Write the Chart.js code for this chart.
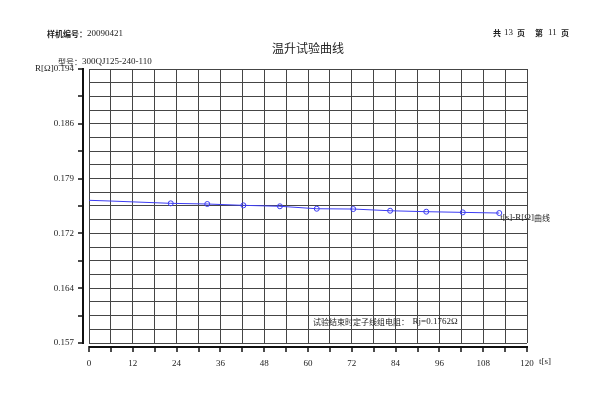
<!DOCTYPE html>
<html>
<head>
<meta charset="utf-8">
<script src="https://cdn.jsdelivr.net/npm/chart.js@4"></script>
<style>
  html, body { margin: 0; background: #fff; }
</style>
</head>
<body>
<canvas id="c" width="600" height="400"></canvas>
<script>
/* temperature-rise test curve: t[s] vs R[Ω] */
const T_S   = [0, 6, 22.4, 32.4, 42.3, 52.3, 62.4, 72.4, 82.5, 92.4, 102.4, 112.4];
const R_OHM = [0.17607, 0.17597, 0.17566, 0.17557, 0.17539, 0.17526, 0.17493, 0.17489, 0.17466, 0.17453, 0.17444, 0.17435];
const MARKED = [false, false, true, true, true, true, true, true, true, true, true, true];

const X_MIN = 0, X_MAX = 120, X_STEP = 6;
const X_LABELS = ["0", "12", "24", "36", "48", "60", "72", "84", "96", "108", "120"];
const Y_MIN = 0.1568, Y_MAX = 0.1938, Y_DIV = 20;
const Y_LABELS = ["0.157", "0.164", "0.172", "0.179", "0.186", "R[Ω]0.194"];

const NUM = "9px 'Liberation Serif'";
const CJK = "8px 'Noto Sans CJK SC'";
const CJK_B = "bold 8px 'Noto Sans CJK SC'";
const BLUE = "#3c3cf2";
const GRID = "#454545";

// draw a run of [font, text] pieces left to right
function run(ctx, parts, x, y) {
  parts.forEach(([font, text]) => {
    ctx.font = font;
    ctx.fillText(text, x, y);
    x += ctx.measureText(text).width;
  });
}

const decor = {
  id: "decor",
  afterDraw(chart) {
    const { ctx, chartArea: a, scales: { x, y } } = chart;
    ctx.save();
    ctx.strokeStyle = "#111";

    // y axis, set off left of the plot box
    ctx.lineWidth = 2;
    ctx.beginPath();
    ctx.moveTo(a.left - 6, a.top - 1);
    ctx.lineTo(a.left - 6, a.bottom + 1);
    ctx.stroke();
    ctx.lineWidth = 1.5;
    ctx.beginPath();
    y.ticks.forEach((t, i) => {
      if (i % 2) return;
      const py = Math.round(y.getPixelForValue(t.value));
      ctx.moveTo(a.left - 11, py);
      ctx.lineTo(a.left - 6, py);
    });
    ctx.stroke();

    // x axis, set off below the plot box
    ctx.lineWidth = 2;
    ctx.beginPath();
    ctx.moveTo(a.left, a.bottom + 4);
    ctx.lineTo(a.right + 1, a.bottom + 4);
    ctx.stroke();
    ctx.lineWidth = 1.5;
    ctx.beginPath();
    x.ticks.forEach((t) => {
      const px = Math.round(x.getPixelForValue(t.value));
      ctx.moveTo(px, a.bottom + 3);
      ctx.lineTo(px, a.bottom + 9);
    });
    ctx.stroke();

    ctx.fillStyle = "#222";
    ctx.textBaseline = "middle";
    ctx.textAlign = "left";

    // header
    run(ctx, [[CJK_B, "样机编号："], [NUM, "20090421"]], 47, 34);
    run(ctx, [[CJK_B, "共"]], 493, 33);
    run(ctx, [[NUM, "13"]], 504, 33);
    run(ctx, [[CJK_B, "页"]], 517, 33);
    run(ctx, [[CJK_B, "第"]], 535, 33);
    run(ctx, [[NUM, "11"]], 548, 33);
    run(ctx, [[CJK_B, "页"]], 561, 33);

    ctx.textAlign = "center";
    ctx.font = "12px 'Noto Sans CJK SC'";
    ctx.fillText("温升试验曲线", 308, 48);
    ctx.textAlign = "left";

    run(ctx, [[CJK, "型号："], [NUM, "300QJ125-240-110"]], 58, 62);

    // x axis unit
    run(ctx, [[NUM, "t[s]"]], 539, 362);

    // curve name next to the last point
    const last = T_S.length - 1;
    const lx = x.getPixelForValue(T_S[last]);
    const ly = y.getPixelForValue(R_OHM[last]);
    run(ctx, [[NUM, "t[s]-R[Ω]"], [CJK, "曲线"]], lx + 1, ly + 5);

    // end-of-test resistance note
    run(ctx, [[CJK, "试验结束时定子线组电阻：  "], [NUM, "Rj=0.1762Ω"]], 313, 322);

    ctx.restore();
  },
};

new Chart(document.getElementById("c"), {
  type: "line",
  data: {
    datasets: [{
      data: T_S.map((t, i) => ({ x: t, y: R_OHM[i] })),
      borderColor: BLUE,
      borderWidth: 1,
      tension: 0,
      pointRadius: (c) => (MARKED[c.dataIndex] ? 2.5 : 0),
      pointBorderColor: BLUE,
      pointBorderWidth: 1,
      pointBackgroundColor: "rgba(0,0,0,0)",
    }],
  },
  options: {
    responsive: false,
    animation: false,
    devicePixelRatio: 1,
    layout: { padding: { top: 69, right: 73, bottom: 0, left: 0 } },
    plugins: { legend: { display: false }, tooltip: { enabled: false } },
    scales: {
      x: {
        type: "linear", min: X_MIN, max: X_MAX,
        afterFit: (s) => { s.height = 57; },
        afterBuildTicks: (s) => {
          s.ticks = [];
          for (let v = X_MIN; v <= X_MAX; v += X_STEP) s.ticks.push({ value: v });
        },
        grid: { color: GRID, lineWidth: 1, drawTicks: false },
        border: { display: false },
        ticks: {
          autoSkip: false, maxRotation: 0, padding: 15, color: "#222",
          font: { family: "Liberation Serif", size: 9 },
          callback: (v, i) => (i % 2 ? "" : X_LABELS[i / 2]),
        },
      },
      y: {
        type: "linear", min: Y_MIN, max: Y_MAX,
        afterFit: (s) => { s.width = 89; },
        afterBuildTicks: (s) => {
          s.ticks = [];
          for (let i = 0; i <= Y_DIV; i++) s.ticks.push({ value: Y_MIN + (Y_MAX - Y_MIN) * i / Y_DIV });
        },
        grid: { color: GRID, lineWidth: 1, drawTicks: false },
        border: { display: false },
        ticks: {
          autoSkip: false, padding: 15, color: "#222",
          font: { family: "Liberation Serif", size: 9 },
          callback: (v, i) => (i % 4 ? "" : Y_LABELS[i / 4]),
        },
      },
    },
  },
  plugins: [decor],
});
</script>
</body>
</html>
